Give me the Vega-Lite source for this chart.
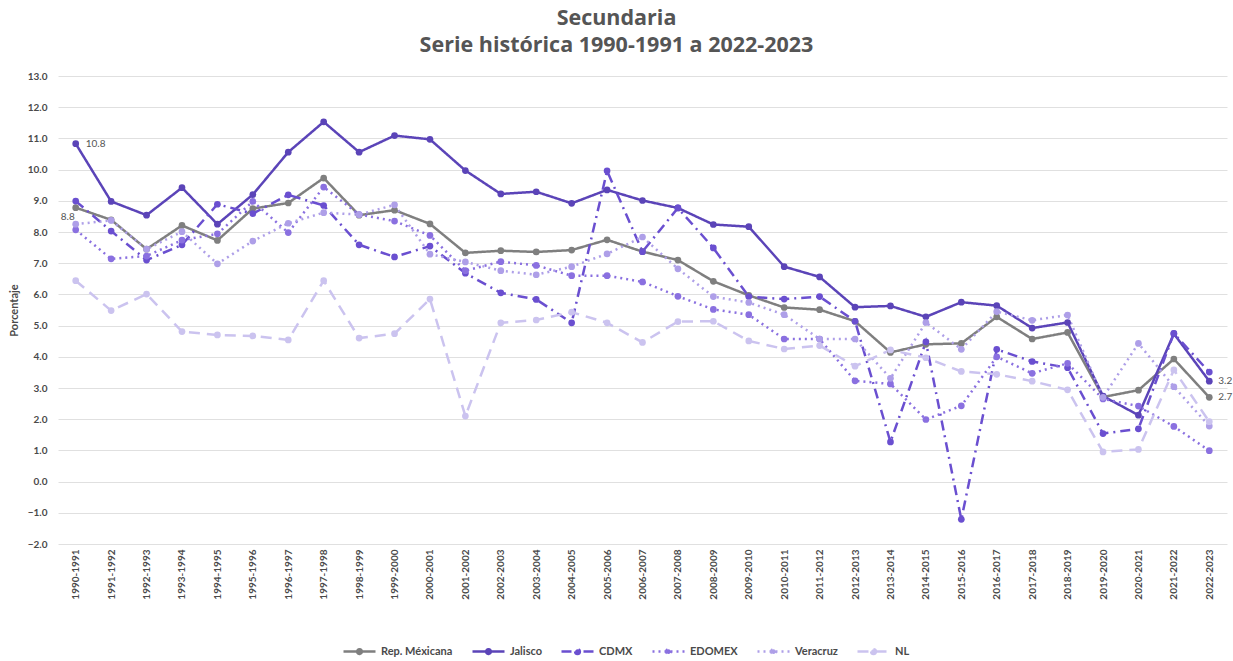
{
  "$schema": "https://vega.github.io/schema/vega-lite/v6.json",
  "autosize": {"type": "none"},
  "width": 1169,
  "height": 468,
  "padding": {"left": 58, "top": 76, "right": 6, "bottom": 117},
  "background": "white",
  "title": {
    "text": ["Secundaria", "Serie histórica 1990-1991 a 2022-2023"],
    "font": "Open Sans",
    "fontSize": 21.5,
    "fontWeight": "bold",
    "color": "#555555",
    "anchor": "middle",
    "dx": -26,
    "offset": 15,
    "lineHeight": 27
  },
  "config": {
    "view": {"stroke": null},
    "font": "Lato",
    "axis": {"labelFont": "Lato", "titleFont": "Lato"},
    "legend": {"labelFont": "Lato"}
  },
  "datasets": {
    "d": [
      {"p": "1990-1991", "s": "Rep. Méxicana", "v": 8.78},
      {"p": "1991-1992", "s": "Rep. Méxicana", "v": 8.39},
      {"p": "1992-1993", "s": "Rep. Méxicana", "v": 7.45},
      {"p": "1993-1994", "s": "Rep. Méxicana", "v": 8.21},
      {"p": "1994-1995", "s": "Rep. Méxicana", "v": 7.73},
      {"p": "1995-1996", "s": "Rep. Méxicana", "v": 8.75},
      {"p": "1996-1997", "s": "Rep. Méxicana", "v": 8.93},
      {"p": "1997-1998", "s": "Rep. Méxicana", "v": 9.73},
      {"p": "1998-1999", "s": "Rep. Méxicana", "v": 8.54},
      {"p": "1999-2000", "s": "Rep. Méxicana", "v": 8.70},
      {"p": "2000-2001", "s": "Rep. Méxicana", "v": 8.26},
      {"p": "2001-2002", "s": "Rep. Méxicana", "v": 7.33},
      {"p": "2002-2003", "s": "Rep. Méxicana", "v": 7.40},
      {"p": "2003-2004", "s": "Rep. Méxicana", "v": 7.36},
      {"p": "2004-2005", "s": "Rep. Méxicana", "v": 7.42},
      {"p": "2005-2006", "s": "Rep. Méxicana", "v": 7.75},
      {"p": "2006-2007", "s": "Rep. Méxicana", "v": 7.37},
      {"p": "2007-2008", "s": "Rep. Méxicana", "v": 7.10},
      {"p": "2008-2009", "s": "Rep. Méxicana", "v": 6.42},
      {"p": "2009-2010", "s": "Rep. Méxicana", "v": 5.97},
      {"p": "2010-2011", "s": "Rep. Méxicana", "v": 5.58},
      {"p": "2011-2012", "s": "Rep. Méxicana", "v": 5.51},
      {"p": "2012-2013", "s": "Rep. Méxicana", "v": 5.14},
      {"p": "2013-2014", "s": "Rep. Méxicana", "v": 4.14},
      {"p": "2014-2015", "s": "Rep. Méxicana", "v": 4.40},
      {"p": "2015-2016", "s": "Rep. Méxicana", "v": 4.43},
      {"p": "2016-2017", "s": "Rep. Méxicana", "v": 5.28},
      {"p": "2017-2018", "s": "Rep. Méxicana", "v": 4.57},
      {"p": "2018-2019", "s": "Rep. Méxicana", "v": 4.78},
      {"p": "2019-2020", "s": "Rep. Méxicana", "v": 2.71},
      {"p": "2020-2021", "s": "Rep. Méxicana", "v": 2.93},
      {"p": "2021-2022", "s": "Rep. Méxicana", "v": 3.93},
      {"p": "2022-2023", "s": "Rep. Méxicana", "v": 2.70},

      {"p": "1990-1991", "s": "Jalisco", "v": 10.83},
      {"p": "1991-1992", "s": "Jalisco", "v": 8.98},
      {"p": "1992-1993", "s": "Jalisco", "v": 8.54},
      {"p": "1993-1994", "s": "Jalisco", "v": 9.42},
      {"p": "1994-1995", "s": "Jalisco", "v": 8.25},
      {"p": "1995-1996", "s": "Jalisco", "v": 9.20},
      {"p": "1996-1997", "s": "Jalisco", "v": 10.56},
      {"p": "1997-1998", "s": "Jalisco", "v": 11.53},
      {"p": "1998-1999", "s": "Jalisco", "v": 10.56},
      {"p": "1999-2000", "s": "Jalisco", "v": 11.09},
      {"p": "2000-2001", "s": "Jalisco", "v": 10.97},
      {"p": "2001-2002", "s": "Jalisco", "v": 9.97},
      {"p": "2002-2003", "s": "Jalisco", "v": 9.22},
      {"p": "2003-2004", "s": "Jalisco", "v": 9.29},
      {"p": "2004-2005", "s": "Jalisco", "v": 8.92},
      {"p": "2005-2006", "s": "Jalisco", "v": 9.35},
      {"p": "2006-2007", "s": "Jalisco", "v": 9.01},
      {"p": "2007-2008", "s": "Jalisco", "v": 8.77},
      {"p": "2008-2009", "s": "Jalisco", "v": 8.24},
      {"p": "2009-2010", "s": "Jalisco", "v": 8.17},
      {"p": "2010-2011", "s": "Jalisco", "v": 6.89},
      {"p": "2011-2012", "s": "Jalisco", "v": 6.56},
      {"p": "2012-2013", "s": "Jalisco", "v": 5.59},
      {"p": "2013-2014", "s": "Jalisco", "v": 5.63},
      {"p": "2014-2015", "s": "Jalisco", "v": 5.28},
      {"p": "2015-2016", "s": "Jalisco", "v": 5.75},
      {"p": "2016-2017", "s": "Jalisco", "v": 5.64},
      {"p": "2017-2018", "s": "Jalisco", "v": 4.92},
      {"p": "2018-2019", "s": "Jalisco", "v": 5.10},
      {"p": "2019-2020", "s": "Jalisco", "v": 2.74},
      {"p": "2020-2021", "s": "Jalisco", "v": 2.13},
      {"p": "2021-2022", "s": "Jalisco", "v": 4.74},
      {"p": "2022-2023", "s": "Jalisco", "v": 3.22},

      {"p": "1990-1991", "s": "CDMX", "v": 8.99},
      {"p": "1991-1992", "s": "CDMX", "v": 8.03},
      {"p": "1992-1993", "s": "CDMX", "v": 7.10},
      {"p": "1993-1994", "s": "CDMX", "v": 7.59},
      {"p": "1994-1995", "s": "CDMX", "v": 8.89},
      {"p": "1995-1996", "s": "CDMX", "v": 8.59},
      {"p": "1996-1997", "s": "CDMX", "v": 9.19},
      {"p": "1997-1998", "s": "CDMX", "v": 8.85},
      {"p": "1998-1999", "s": "CDMX", "v": 7.59},
      {"p": "1999-2000", "s": "CDMX", "v": 7.20},
      {"p": "2000-2001", "s": "CDMX", "v": 7.55},
      {"p": "2001-2002", "s": "CDMX", "v": 6.68},
      {"p": "2002-2003", "s": "CDMX", "v": 6.05},
      {"p": "2003-2004", "s": "CDMX", "v": 5.84},
      {"p": "2004-2005", "s": "CDMX", "v": 5.09},
      {"p": "2005-2006", "s": "CDMX", "v": 9.96},
      {"p": "2006-2007", "s": "CDMX", "v": 7.37},
      {"p": "2007-2008", "s": "CDMX", "v": 8.77},
      {"p": "2008-2009", "s": "CDMX", "v": 7.49},
      {"p": "2009-2010", "s": "CDMX", "v": 5.93},
      {"p": "2010-2011", "s": "CDMX", "v": 5.85},
      {"p": "2011-2012", "s": "CDMX", "v": 5.93},
      {"p": "2012-2013", "s": "CDMX", "v": 5.14},
      {"p": "2013-2014", "s": "CDMX", "v": 1.27},
      {"p": "2014-2015", "s": "CDMX", "v": 4.48},
      {"p": "2015-2016", "s": "CDMX", "v": -1.21},
      {"p": "2016-2017", "s": "CDMX", "v": 4.24},
      {"p": "2017-2018", "s": "CDMX", "v": 3.85},
      {"p": "2018-2019", "s": "CDMX", "v": 3.65},
      {"p": "2019-2020", "s": "CDMX", "v": 1.54},
      {"p": "2020-2021", "s": "CDMX", "v": 1.69},
      {"p": "2021-2022", "s": "CDMX", "v": 4.75},
      {"p": "2022-2023", "s": "CDMX", "v": 3.51},

      {"p": "1990-1991", "s": "EDOMEX", "v": 8.07},
      {"p": "1991-1992", "s": "EDOMEX", "v": 7.14},
      {"p": "1992-1993", "s": "EDOMEX", "v": 7.23},
      {"p": "1993-1994", "s": "EDOMEX", "v": 7.74},
      {"p": "1994-1995", "s": "EDOMEX", "v": 7.94},
      {"p": "1995-1996", "s": "EDOMEX", "v": 8.98},
      {"p": "1996-1997", "s": "EDOMEX", "v": 7.98},
      {"p": "1997-1998", "s": "EDOMEX", "v": 9.44},
      {"p": "1998-1999", "s": "EDOMEX", "v": 8.56},
      {"p": "1999-2000", "s": "EDOMEX", "v": 8.35},
      {"p": "2000-2001", "s": "EDOMEX", "v": 7.89},
      {"p": "2001-2002", "s": "EDOMEX", "v": 6.76},
      {"p": "2002-2003", "s": "EDOMEX", "v": 7.05},
      {"p": "2003-2004", "s": "EDOMEX", "v": 6.93},
      {"p": "2004-2005", "s": "EDOMEX", "v": 6.60},
      {"p": "2005-2006", "s": "EDOMEX", "v": 6.60},
      {"p": "2006-2007", "s": "EDOMEX", "v": 6.40},
      {"p": "2007-2008", "s": "EDOMEX", "v": 5.94},
      {"p": "2008-2009", "s": "EDOMEX", "v": 5.52},
      {"p": "2009-2010", "s": "EDOMEX", "v": 5.35},
      {"p": "2010-2011", "s": "EDOMEX", "v": 4.57},
      {"p": "2011-2012", "s": "EDOMEX", "v": 4.57},
      {"p": "2012-2013", "s": "EDOMEX", "v": 3.23},
      {"p": "2013-2014", "s": "EDOMEX", "v": 3.13},
      {"p": "2014-2015", "s": "EDOMEX", "v": 1.99},
      {"p": "2015-2016", "s": "EDOMEX", "v": 2.43},
      {"p": "2016-2017", "s": "EDOMEX", "v": 4.00},
      {"p": "2017-2018", "s": "EDOMEX", "v": 3.47},
      {"p": "2018-2019", "s": "EDOMEX", "v": 3.79},
      {"p": "2019-2020", "s": "EDOMEX", "v": 2.65},
      {"p": "2020-2021", "s": "EDOMEX", "v": 2.42},
      {"p": "2021-2022", "s": "EDOMEX", "v": 1.77},
      {"p": "2022-2023", "s": "EDOMEX", "v": 0.99},

      {"p": "1990-1991", "s": "Veracruz", "v": 8.25},
      {"p": "1991-1992", "s": "Veracruz", "v": 8.37},
      {"p": "1992-1993", "s": "Veracruz", "v": 7.45},
      {"p": "1993-1994", "s": "Veracruz", "v": 8.01},
      {"p": "1994-1995", "s": "Veracruz", "v": 6.98},
      {"p": "1995-1996", "s": "Veracruz", "v": 7.71},
      {"p": "1996-1997", "s": "Veracruz", "v": 8.28},
      {"p": "1997-1998", "s": "Veracruz", "v": 8.62},
      {"p": "1998-1999", "s": "Veracruz", "v": 8.56},
      {"p": "1999-2000", "s": "Veracruz", "v": 8.87},
      {"p": "2000-2001", "s": "Veracruz", "v": 7.29},
      {"p": "2001-2002", "s": "Veracruz", "v": 7.04},
      {"p": "2002-2003", "s": "Veracruz", "v": 6.76},
      {"p": "2003-2004", "s": "Veracruz", "v": 6.63},
      {"p": "2004-2005", "s": "Veracruz", "v": 6.89},
      {"p": "2005-2006", "s": "Veracruz", "v": 7.30},
      {"p": "2006-2007", "s": "Veracruz", "v": 7.84},
      {"p": "2007-2008", "s": "Veracruz", "v": 6.82},
      {"p": "2008-2009", "s": "Veracruz", "v": 5.93},
      {"p": "2009-2010", "s": "Veracruz", "v": 5.74},
      {"p": "2010-2011", "s": "Veracruz", "v": 5.35},
      {"p": "2011-2012", "s": "Veracruz", "v": 4.57},
      {"p": "2012-2013", "s": "Veracruz", "v": 4.57},
      {"p": "2013-2014", "s": "Veracruz", "v": 3.31},
      {"p": "2014-2015", "s": "Veracruz", "v": 5.10},
      {"p": "2015-2016", "s": "Veracruz", "v": 4.24},
      {"p": "2016-2017", "s": "Veracruz", "v": 5.45},
      {"p": "2017-2018", "s": "Veracruz", "v": 5.17},
      {"p": "2018-2019", "s": "Veracruz", "v": 5.34},
      {"p": "2019-2020", "s": "Veracruz", "v": 2.70},
      {"p": "2020-2021", "s": "Veracruz", "v": 4.43},
      {"p": "2021-2022", "s": "Veracruz", "v": 3.04},
      {"p": "2022-2023", "s": "Veracruz", "v": 1.78},

      {"p": "1990-1991", "s": "NL", "v": 6.44},
      {"p": "1991-1992", "s": "NL", "v": 5.48},
      {"p": "1992-1993", "s": "NL", "v": 6.01},
      {"p": "1993-1994", "s": "NL", "v": 4.81},
      {"p": "1994-1995", "s": "NL", "v": 4.70},
      {"p": "1995-1996", "s": "NL", "v": 4.67},
      {"p": "1996-1997", "s": "NL", "v": 4.54},
      {"p": "1997-1998", "s": "NL", "v": 6.44},
      {"p": "1998-1999", "s": "NL", "v": 4.60},
      {"p": "1999-2000", "s": "NL", "v": 4.74},
      {"p": "2000-2001", "s": "NL", "v": 5.85},
      {"p": "2001-2002", "s": "NL", "v": 2.10},
      {"p": "2002-2003", "s": "NL", "v": 5.09},
      {"p": "2003-2004", "s": "NL", "v": 5.18},
      {"p": "2004-2005", "s": "NL", "v": 5.43},
      {"p": "2005-2006", "s": "NL", "v": 5.09},
      {"p": "2006-2007", "s": "NL", "v": 4.46},
      {"p": "2007-2008", "s": "NL", "v": 5.13},
      {"p": "2008-2009", "s": "NL", "v": 5.14},
      {"p": "2009-2010", "s": "NL", "v": 4.51},
      {"p": "2010-2011", "s": "NL", "v": 4.25},
      {"p": "2011-2012", "s": "NL", "v": 4.36},
      {"p": "2012-2013", "s": "NL", "v": 3.70},
      {"p": "2013-2014", "s": "NL", "v": 4.22},
      {"p": "2014-2015", "s": "NL", "v": 3.97},
      {"p": "2015-2016", "s": "NL", "v": 3.53},
      {"p": "2016-2017", "s": "NL", "v": 3.44},
      {"p": "2017-2018", "s": "NL", "v": 3.22},
      {"p": "2018-2019", "s": "NL", "v": 2.94},
      {"p": "2019-2020", "s": "NL", "v": 0.95},
      {"p": "2020-2021", "s": "NL", "v": 1.03},
      {"p": "2021-2022", "s": "NL", "v": 3.58},
      {"p": "2022-2023", "s": "NL", "v": 1.92}
    ]
  },
  "data": {"name": "d"},
  "encoding": {
    "x": {
      "field": "p",
      "type": "ordinal",
      "sort": null,
      "scale": {"type": "point", "padding": 0.5},
      "axis": {
        "title": null,
        "labelAngle": -90,
        "labelAlign": "right",
        "labelBaseline": "middle",
        "labelFontSize": 10,
        "labelFontWeight": "bold",
        "labelColor": "#4a4a4a",
        "labelPadding": 5,
        "ticks": false,
        "domain": false,
        "grid": false
      }
    },
    "y": {
      "field": "v",
      "type": "quantitative",
      "scale": {"domain": [-2, 13], "nice": false, "zero": false},
      "axis": {
        "title": "Porcentaje",
        "titleFontSize": 11,
        "titleFontWeight": "bold",
        "titleColor": "#4a4a4a",
        "titlePadding": 8,
        "values": [-2, -1, 0, 1, 2, 3, 4, 5, 6, 7, 8, 9, 10, 11, 12, 13],
        "format": ".1f",
        "labelFontSize": 10,
        "labelFontWeight": "bold",
        "labelColor": "#4a4a4a",
        "labelPadding": 11,
        "ticks": false,
        "domain": false,
        "grid": true,
        "gridColor": "#e0e0e0",
        "gridWidth": 1
      }
    }
  },
  "layer": [
    {
      "mark": {"type": "line", "strokeWidth": 2.5, "point": {"filled": true, "size": 45}},
      "encoding": {
        "color": {
          "field": "s",
          "type": "nominal",
          "scale": {
            "domain": ["Rep. Méxicana", "Jalisco", "CDMX", "EDOMEX", "Veracruz", "NL"],
            "range": ["#7f7f7f", "#5b44b8", "#6a4fd0", "#8a70e0", "#ae9fe8", "#cbc3ef"]
          },
          "legend": {
            "title": null,
            "orient": "none",
            "legendX": 284,
            "legendY": 558,
            "direction": "horizontal",
            "columns": 6,
            "symbolType": "M-1,0H1M-0.15,0a0.15,0.15 0 1,0 0.3,0a0.15,0.15 0 1,0 -0.3,0",
            "symbolSize": 1024,
            "symbolStrokeWidth": 2.5,
            "labelFontSize": 11,
            "labelFontWeight": "bold",
            "labelColor": "#4a4a4a",
            "labelOffset": 4,
            "columnPadding": 14
          }
        },
        "strokeDash": {
          "field": "s",
          "type": "nominal",
          "scale": {
            "domain": ["Rep. Méxicana", "Jalisco", "CDMX", "EDOMEX", "Veracruz", "NL"],
            "range": [[1, 0], [1, 0], [10, 5, 2, 5], [2, 4], [2, 4], [11, 7]]
          },
          "legend": null
        },
        "order": {"field": "p"}
      }
    },
    {
      "transform": [{"filter": "(datum.s === 'Jalisco' || datum.s === 'Rep. Méxicana') && datum.p === '2022-2023'"}],
      "mark": {"type": "text", "align": "left", "dx": 9, "fontSize": 10, "color": "#555555", "font": "Lato"},
      "encoding": {"text": {"field": "v", "type": "quantitative", "format": ".1f"}}
    },
    {
      "transform": [{"filter": "datum.s === 'Jalisco' && datum.p === '1990-1991'"}],
      "mark": {"type": "text", "align": "left", "dx": 10, "fontSize": 10, "color": "#555555", "font": "Lato"},
      "encoding": {"text": {"field": "v", "type": "quantitative", "format": ".1f"}}
    },
    {
      "transform": [{"filter": "datum.s === 'Rep. Méxicana' && datum.p === '1990-1991'"}],
      "mark": {"type": "text", "align": "right", "dx": -1, "dy": 9, "fontSize": 10, "color": "#555555", "font": "Lato"},
      "encoding": {"text": {"field": "v", "type": "quantitative", "format": ".1f"}}
    }
  ]
}
